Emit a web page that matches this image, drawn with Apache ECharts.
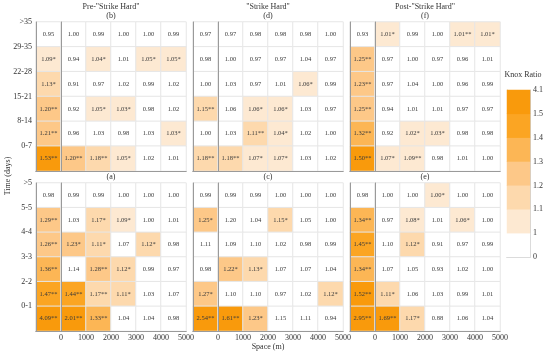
<!DOCTYPE html>
<html><head><meta charset="utf-8">
<script src="https://cdn.jsdelivr.net/npm/echarts@6/dist/echarts.min.js"></script>
<style>html,body{margin:0;padding:0;background:#fff}#c{width:550px;height:355px}</style>
</head><body><div id="c"></div>
<script>
const xTickLabels = ['0','1000','2000','3000','4000','5000'];
const yTickTop = ['0-7','8-14','15-21','22-28','29-35','>35'];
const yTickBottom = ['0-1','2-2','3-3','4-4','5-5','>5'];
const periodTitles = ['Pre-"Strike Hard"','"Strike Hard"','Post-"Strike Hard"'];
const topCaptions = ['(b)','(d)','(f)'];
const bottomCaptions = ['(a)','(c)','(e)'];
const legendLabels = ['0','1','1.1','1.2','1.3','1.4','1.5','4.1'];
const binBreaks = [1.1,1.2,1.3,1.4,1.5];
const binColors = ['#ffffff','#fde9d2','#fdd9ad','#fdc888','#fcb655','#fba523','#f99a0c'];

// rows listed from top (largest time) to bottom
const panelB = [
 ['0.95','1.00','0.99','1.00','1.00','0.99'],
 ['1.09*','0.94','1.04*','1.01','1.05*','1.05*'],
 ['1.13*','0.91','0.97','1.02','0.99','1.02'],
 ['1.20**','0.92','1.05*','1.03*','0.98','1.02'],
 ['1.21**','0.96','1.03','0.98','1.03','1.03*'],
 ['1.53**','1.20**','1.18**','1.05*','1.02','1.01']];
const panelD = [
 ['0.97','0.97','0.98','0.98','0.98','1.00'],
 ['0.98','1.00','0.97','0.97','1.04','0.97'],
 ['1.00','1.03','0.97','1.01','1.06*','0.99'],
 ['1.15**','1.06','1.06*','1.06*','1.03','0.97'],
 ['1.00','1.03','1.11**','1.04*','1.02','1.00'],
 ['1.18**','1.18**','1.07*','1.07*','1.03','1.02']];
const panelF = [
 ['0.93','1.01*','0.99','1.00','1.01**','1.01*'],
 ['1.25**','0.97','1.00','0.97','0.96','1.01'],
 ['1.23**','0.97','1.04','1.00','0.96','0.99'],
 ['1.25**','0.94','1.01','1.01','0.97','0.97'],
 ['1.32**','0.92','1.02*','1.03*','0.98','0.98'],
 ['1.50**','1.07*','1.09**','0.98','1.01','1.00']];
const panelA = [
 ['0.98','0.99','0.99','1.00','1.00','1.00'],
 ['1.29**','1.03','1.17*','1.09*','1.00','1.01'],
 ['1.26**','1.23*','1.11*','1.07','1.12*','0.98'],
 ['1.36**','1.14','1.28**','1.12*','0.99','0.97'],
 ['1.47**','1.44**','1.17**','1.11*','1.03','1.07'],
 ['4.09**','2.01**','1.33**','1.04','1.04','0.98']];
const panelC = [
 ['0.99','0.99','0.99','1.00','1.00','1.00'],
 ['1.25*','1.20','1.04','1.15*','1.05','1.00'],
 ['1.11','1.09','1.10','1.02','0.98','0.99'],
 ['0.98','1.22*','1.13*','1.07','1.07','1.04'],
 ['1.27*','1.10','1.10','0.97','1.02','1.12*'],
 ['2.54**','1.61**','1.23*','1.15','1.11','0.94']];
const panelE = [
 ['0.98','1.00','1.00','1.00*','1.00','1.00'],
 ['1.34**','0.97','1.08*','1.01','1.06*','1.00'],
 ['1.45**','1.10','1.12*','0.91','0.97','0.99'],
 ['1.34**','1.07','1.05','0.93','1.02','1.00'],
 ['1.52**','1.11*','1.06','1.03','0.99','1.01'],
 ['2.95**','1.69**','1.17*','0.88','1.06','1.04']];

const panels = [panelB, panelD, panelF, panelA, panelC, panelE];

function colorFor(text){
  const v = parseFloat(text);
  if (text.indexOf('*') < 0) return binColors[0];
  let b = 1;
  for (let i = 0; i < binBreaks.length; i++) if (v >= binBreaks[i]) b = i + 2;
  return binColors[b];
}

const FONT = 'Liberation Serif';
const TXT = '#333';
const lefts = [36, 193, 350];
const tops = [22, 183];
const heights = [149, 148];
const grids = [], xAxes = [], yAxes = [], series = [];

panels.forEach((rows, i) => {
  const col = i % 3, row = Math.floor(i / 3);
  const yLabels = row === 0 ? yTickTop : yTickBottom;
  grids.push({left: lefts[col], top: tops[row], width: 150, height: heights[row], containLabel: false});
  const gi = grids.length - 1;
  xAxes.push({type:'category', gridIndex: gi, position:'top', data: xTickLabels,
    axisLine:{show:true, lineStyle:{color:'#9a9a9a', width:1}}, axisTick:{show:false}, axisLabel:{show:false}, splitLine:{show:false}, z:5});
  const xc = xAxes.length - 1;
  yAxes.push({type:'category', gridIndex: gi, position:'right', data: yLabels,
    axisLine:{show:true, lineStyle:{color:'#9a9a9a', width:1}}, axisTick:{show:false}, axisLabel:{show:false}, splitLine:{show:false}, z:5});
  const yc = yAxes.length - 1;
  xAxes.push({type:'value', gridIndex: gi, position:'bottom', min:-1000, max:5000, interval:1000,
    axisLine:{show:true, lineStyle:{color:'#9a9a9a', width:1}}, axisTick:{show:false}, splitLine:{show:false}, z:5,
    axisLabel:{show: row === 1, margin:3, fontSize:8, fontFamily:FONT, color:TXT, showMinLabel:true, showMaxLabel:true,
      formatter: v => v < 0 ? '' : xTickLabels[Math.round(v/1000)]}});
  yAxes.push({type:'value', gridIndex: gi, position:'left', min:0, max:6, interval:1,
    axisLine:{show:true, lineStyle:{color:'#9a9a9a', width:1}}, axisTick:{show:false}, splitLine:{show:false}, z:5,
    axisLabel:{show: col === 0, margin:4, fontSize:8, fontFamily:FONT, color:TXT, showMinLabel:true, showMaxLabel:true,
      formatter: v => v === 0 ? '' : yLabels[v-1]}});
  const data = [];
  rows.forEach((r, ri) => r.forEach((t, ci) => {
    data.push({value:[ci, 5 - ri, parseFloat(t)], text: t, itemStyle:{color: colorFor(t)}});
  }));
  series.push({type:'heatmap', xAxisIndex: xc, yAxisIndex: yc, data,
    itemStyle:{borderColor:'#e6e6e6', borderWidth:1},
    label:{show:true, formatter: p => p.data.text, fontSize:6.5, fontFamily:FONT, color:'#3a3a3a'},
    emphasis:{disabled:true}});
});

// legend as its own small heatmap grid
grids.push({left:507, top:90, width:23, height:167});
const lg = grids.length - 1;
xAxes.push({type:'category', gridIndex: lg, data:['Knox'], position:'top',
  axisLine:{show:true, lineStyle:{color:'#d0d0d0'}}, axisTick:{show:false}, axisLabel:{show:false}});
const lxc = xAxes.length - 1;
yAxes.push({type:'category', gridIndex: lg, data: legendLabels.slice(0,7), position:'left',
  axisLine:{show:true, lineStyle:{color:'#d0d0d0'}}, axisTick:{show:false}, axisLabel:{show:false}});
const lyc = yAxes.length - 1;
xAxes.push({type:'value', gridIndex: lg, min:0, max:1, position:'bottom',
  axisLine:{show:true, lineStyle:{color:'#d0d0d0'}}, axisTick:{show:false}, axisLabel:{show:false}, splitLine:{show:false}});
yAxes.push({type:'value', gridIndex: lg, min:0, max:7, interval:1, position:'right',
  axisLine:{show:true, lineStyle:{color:'#d0d0d0'}}, axisTick:{show:false}, splitLine:{show:false},
  axisLabel:{margin:3, fontSize:8, fontFamily:FONT, color:TXT, showMinLabel:true, showMaxLabel:true,
    formatter: v => legendLabels[v]}});
series.push({type:'heatmap', xAxisIndex: lxc, yAxisIndex: lyc,
  data: binColors.map((c, k) => ({value:[0, k, k], itemStyle:{color:c}})),
  itemStyle:{borderWidth:0}, emphasis:{disabled:true}});

function txt(text, x, y, size, rot){
  return {type:'text', x, y, rotation: rot || 0,
    style:{text, fill:TXT, font: size + 'px "Liberation Serif"', textAlign:'center', textVerticalAlign:'middle'}};
}
const graphics = [];
periodTitles.forEach((t, k) => graphics.push(txt(t, lefts[k] + 75, 7, 8)));
topCaptions.forEach((t, k) => graphics.push(txt(t, lefts[k] + 75, 16, 8)));
bottomCaptions.forEach((t, k) => graphics.push(txt(t, lefts[k] + 75, 176.5, 8)));
graphics.push(txt('Space (m)', 268, 347, 8));
graphics.push(txt('Knox Ratio', 523, 75, 8));
graphics.push(txt('Time (days)', 8, 176, 8, Math.PI/2));

const chart = echarts.init(document.getElementById('c'), null, {renderer:'canvas'});
chart.setOption({
  animation:false,
  grid: grids, xAxis: xAxes, yAxis: yAxes, series,
  graphic: graphics
});
</script></body></html>
